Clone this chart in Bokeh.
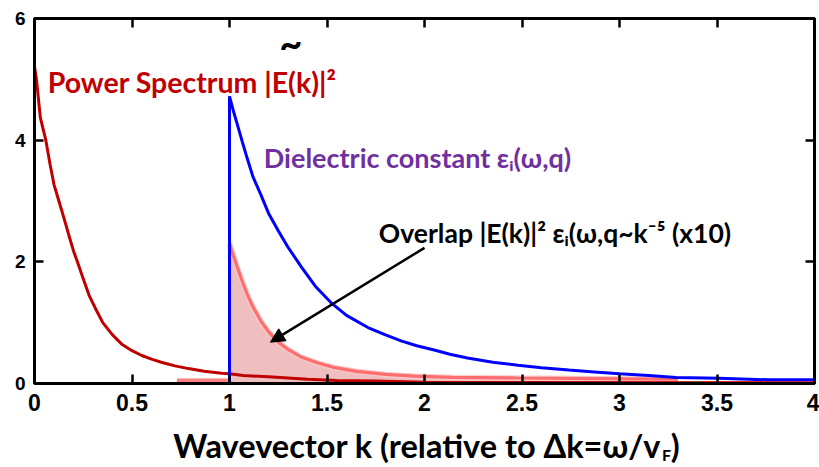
from bokeh.plotting import figure
from bokeh.models import Range1d, FixedTicker, LinearAxis, Label, Arrow, NormalHead
from bokeh.layouts import column
from bokeh.embed import file_html
from bokeh.resources import INLINE

# ---- data ----
red_k = [0.0, 0.01, 0.03, 0.058, 0.08, 0.10, 0.125, 0.15, 0.175, 0.20, 0.22, 0.25, 0.28,
         0.31, 0.35, 0.40, 0.45, 0.50, 0.55, 0.60, 0.65, 0.72, 0.79, 0.87, 0.96, 1.0,
         1.07, 1.2, 1.3, 1.4, 1.55, 1.75, 2.0, 4.0]
red_y = [5.21, 5.0, 4.37, 4.0, 3.6, 3.27, 3.0, 2.73, 2.45, 2.18, 2.0, 1.72, 1.45,
         1.25, 1.0, 0.80, 0.64, 0.54, 0.46, 0.40, 0.35, 0.29, 0.245, 0.20, 0.17, 0.16,
         0.13, 0.11, 0.09, 0.07, 0.05, 0.04, 0.02, 0.01]

blue_k = [1.0, 1.0, 1.02, 1.04, 1.065, 1.09, 1.12, 1.16, 1.20, 1.25, 1.30, 1.37, 1.44,
          1.52, 1.60, 1.71, 1.80, 1.88, 1.96, 2.05, 2.13, 2.22, 2.35, 2.48, 2.6, 2.74,
          2.87, 3.0, 3.15, 3.29, 3.51, 3.77, 4.0]
blue_y = [0.0, 4.72, 4.48, 4.26, 3.98, 3.71, 3.40, 3.11, 2.80, 2.51, 2.24, 1.91, 1.60,
          1.33, 1.12, 0.92, 0.80, 0.70, 0.62, 0.55, 0.48, 0.42, 0.35, 0.30, 0.26, 0.22,
          0.19, 0.16, 0.13, 0.10, 0.087, 0.06, 0.06]

pink_k = [1.0, 1.02, 1.04, 1.065, 1.09, 1.12, 1.16, 1.20, 1.25, 1.30, 1.37, 1.45, 1.54,
          1.65, 1.80, 1.95, 2.14, 2.48, 2.9, 3.3]
pink_y = [2.30, 2.10, 1.91, 1.68, 1.47, 1.26, 1.03, 0.85, 0.68, 0.56, 0.43, 0.34, 0.26,
          0.20, 0.15, 0.12, 0.10, 0.09, 0.08, 0.07]

pink_base_k = [0.73, 1.0]
pink_base_y = [0.05, 0.05]

tail_k = [3.42, 4.0]
tail_y = [0.0, 0.0]
green_k = [3.38, 3.42]
green_y = [0.0, 0.0]

x_ticks = [0, 0.5, 1, 1.5, 2, 2.5, 3, 3.5, 4]
x_tick_labels = ["0", "0.5", "1", "1.5", "2", "2.5", "3", "3.5", "4"]
y_ticks = [0, 2, 4, 6]
y_tick_labels = ["0", "2", "4", "6"]

TEXT_FONT = "Lato"
TICK_FONT = "Liberation Sans"

p = figure(width=819, height=425, output_backend="svg", toolbar_location=None,
           x_range=Range1d(0, 4), y_range=Range1d(0, 6),
           min_border_left=34, min_border_right=5, min_border_top=18, min_border_bottom=42)
p.grid.visible = False
p.outline_line_color = "black"
p.outline_line_width = 3
p.background_fill_color = "white"
p.border_fill_color = "white"

for ax in [p.xaxis[0], p.yaxis[0]]:
    ax.axis_line_color = "black"
    ax.axis_line_width = 3
    ax.major_tick_in = 9
    ax.major_tick_out = 0
    ax.major_tick_line_width = 2.5
    ax.minor_tick_line_color = None
    ax.major_label_text_font = TICK_FONT
    ax.major_label_text_font_style = "bold"
    ax.major_label_text_color = "black"

p.xaxis.ticker = FixedTicker(ticks=x_ticks)
p.xaxis.major_label_overrides = {t: l for t, l in zip(x_ticks, x_tick_labels)}
p.xaxis.major_label_text_font_size = "23px"
p.xaxis.major_label_standoff = 10
p.yaxis.ticker = FixedTicker(ticks=y_ticks)
p.yaxis.major_label_overrides = {t: l for t, l in zip(y_ticks, y_tick_labels)}
p.yaxis.major_label_text_font_size = "19px"
p.yaxis.major_label_standoff = 9

top = LinearAxis(ticker=FixedTicker(ticks=x_ticks), axis_line_color="black", axis_line_width=3,
                 major_tick_in=9, major_tick_out=0, major_tick_line_width=2.5,
                 minor_tick_line_color=None, major_label_text_font_size="8px",
                 major_label_overrides={t: "" for t in x_ticks}, major_label_standoff=0)
right = LinearAxis(ticker=FixedTicker(ticks=y_ticks), axis_line_color="black", axis_line_width=3,
                   major_tick_in=9, major_tick_out=0, major_tick_line_width=2.5,
                   minor_tick_line_color=None, major_label_text_font_size="8px",
                   major_label_overrides={t: "" for t in y_ticks}, major_label_standoff=0)
p.add_layout(top, "above")
p.add_layout(right, "right")

# ---- glyphs ----
p.varea(x=pink_k, y1=[0] * len(pink_k), y2=pink_y, fill_color="#efbfbf")
p.line(pink_k, pink_y, line_color="#f8cccc", line_width=5.5)
p.line(pink_k, pink_y, line_color="#ff6e6e", line_width=3.2)
p.line(pink_base_k, pink_base_y, line_color="#ff8080", line_width=4)
p.line(red_k, red_y, line_color="#c00000", line_width=3)
p.line(blue_k, blue_y, line_color="#0000ff", line_width=3)
p.line(tail_k, tail_y, line_color="#ff0000", line_width=4)
p.line(green_k, green_y, line_color="#008000", line_width=4)

# ---- annotations ----
p.add_layout(Label(x=0.068, y=4.95, text="Power Spectrum |E(k)|²", text_font=TEXT_FONT,
                   text_font_style="bold", text_font_size="28.5px", text_color="#c00000",
                   text_baseline="middle", text_align="left"))
p.add_layout(Label(x=1.314, y=5.6, text="~", text_font=TEXT_FONT,
                   text_font_style="bold", text_font_size="40px", text_color="black",
                   text_baseline="middle", text_align="center"))
p.add_layout(Label(x=1.176, y=3.715, text="Dielectric constant εᵢ(ω,q)", text_font=TEXT_FONT,
                   text_font_style="bold", text_font_size="27px", text_color="#7030a0",
                   text_baseline="middle", text_align="left"))
p.add_layout(Label(x=1.766, y=2.48, text="Overlap |E(k)|² εᵢ(ω,q~k⁻⁵ (x10)", text_font=TEXT_FONT,
                   text_font_style="bold", text_font_size="26.5px", text_color="black",
                   text_baseline="middle", text_align="left"))

p.add_layout(Arrow(end=NormalHead(size=14, fill_color="black", line_color="black"),
                   x_start=2.0, y_start=2.23, x_end=1.21, y_end=0.68,
                   line_width=2.5, line_color="black"))

# ---- x-axis title strip (screen-like coordinates, y grows downward) ----
t = figure(width=819, height=42, output_backend="svg", toolbar_location=None,
           x_range=Range1d(0, 819), y_range=Range1d(467, 425),
           x_axis_location=None, y_axis_location=None,
           min_border_left=0, min_border_right=0, min_border_top=0, min_border_bottom=0)
t.grid.visible = False
t.outline_line_color = None
t.add_layout(Label(x=658, y=445, text="Wavevector k (relative to Δk=ω/v", text_font=TEXT_FONT,
                   text_font_style="bold", text_font_size="32.5px", text_color="black",
                   text_baseline="middle", text_align="right"))
t.add_layout(Label(x=659, y=454, text="F", text_font=TEXT_FONT,
                   text_font_style="bold", text_font_size="16px", text_color="black",
                   text_baseline="middle", text_align="left"))
t.add_layout(Label(x=668, y=445, text=")", text_font=TEXT_FONT,
                   text_font_style="bold", text_font_size="32.5px", text_color="black",
                   text_baseline="middle", text_align="left"))

open("out.html", "w").write(file_html(column(p, t, spacing=0), INLINE))
